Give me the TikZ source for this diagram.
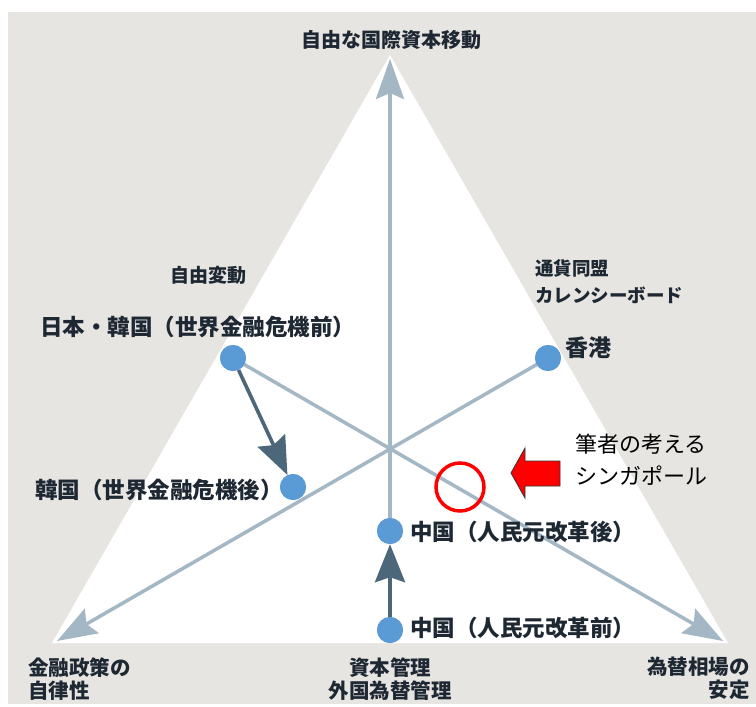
\documentclass[tikz,border=0pt]{standalone}
\usepackage{fontspec}
\usetikzlibrary{arrows.meta}
\newfontfamily\jp{Noto Sans CJK JP}
\definecolor{bggray}{HTML}{E7E5E2}
\definecolor{lightax}{HTML}{A3B7C5}
\definecolor{darkax}{HTML}{4C6779}
\definecolor{dotblue}{HTML}{5B9BD5}
\definecolor{txt}{HTML}{1E2833}
\tikzset{
  lightline/.style={draw=lightax, line width=3.5pt},
  lightarrow/.style={lightline, -{Stealth[length=40pt, width=28pt, inset=6pt]}},
  darkarrow/.style={draw=darkax, line width=3.6pt, -{Stealth[length=38pt, width=30pt, inset=5pt]}},
  dotnode/.style={circle, fill=dotblue, minimum size=26pt, inner sep=0pt},
  axlabel/.style={inner sep=0pt, text=txt, font=\jp\bfseries\fontsize{20}{24}\selectfont, align=left},
  ptlabel/.style={inner sep=0pt, text=txt, font=\jp\bfseries\fontsize{22.5}{26}\selectfont},
  notelabel/.style={inner sep=0pt, text=black, font=\jp\fontsize{22}{25}\selectfont},
}
\begin{document}
\begin{tikzpicture}[x=1pt, y=-1pt]
\useasboundingbox (0,0) rectangle (756,707);
\fill[white] (0,0) rectangle (756,707);
\fill[bggray] (8,12) rectangle (756,704);
% triangle
\fill[white] (390,55) -- (52,643) -- (728,643) -- cycle;
% corners (arrow tips)
\coordinate (top) at (390,59);
\coordinate (bl) at (57,641);
\coordinate (br) at (723,641);
% dots
\node[dotnode] (jp) at (233,358) {};
\node[dotnode] (kr) at (293,487) {};
\node[dotnode] (hk) at (548,358) {};
\node[dotnode] (cna) at (390,531) {};
\node[dotnode] (cnb) at (390,630) {};
% light axes
\draw[lightarrow] (cna.center) -- (top);
\draw[lightarrow] (jp.center) -- (br);
\draw[lightarrow] (hk.center) -- (bl);
% dark arrows
\draw[darkarrow] (jp) -- (kr);
\draw[darkarrow] (cnb) -- (cna);
% redraw dots on top
\node[dotnode] at (jp) {};
\node[dotnode] at (kr) {};
\node[dotnode] at (hk) {};
\node[dotnode] at (cna) {};
\node[dotnode] at (cnb) {};
% axis labels
\node[axlabel] (ltop) at (391,40) {自由な国際資本移動};
\node[axlabel, font=\jp\bfseries\fontsize{19}{23}\selectfont] (lfree) at (208,275) {自由変動};
\node[axlabel, anchor=west, font=\jp\bfseries\fontsize{18.5}{27}\selectfont] (lunion) at (535,282) {通貨同盟\\カレンシーボード};
\node[axlabel, anchor=west, font=\jp\bfseries\fontsize{20.5}{23}\selectfont] (lbl) at (28,679) {金融政策の\\自律性};
\node[axlabel, align=center, font=\jp\bfseries\fontsize{20.5}{23}\selectfont] (lbc) at (390,679) {資本管理\\外国為替管理};
\node[axlabel, anchor=east, align=right, font=\jp\bfseries\fontsize{20.5}{23}\selectfont] (lbr) at (750,678) {為替相場の\\安定};
% point labels
\node[ptlabel] (tjp) at (198,327) {日本・韓国（世界金融危機前）};
\node[ptlabel, anchor=east] (tkr) at (283,490) {韓国（世界金融危機後）};
\node[ptlabel, anchor=west, font=\jp\bfseries\fontsize{23}{27}\selectfont] (thk) at (565,348) {香港};
\node[ptlabel, anchor=west] (tcna) at (410,532) {中国（人民元改革後）};
\node[ptlabel, anchor=west] (tcnb) at (410,628) {中国（人民元改革前）};
% singapore note
\node[draw=red, line width=3.5pt, circle, minimum size=48pt, inner sep=0pt] (sg) at (460,487) {};
\draw[fill=red, draw=black!80, line width=0.8pt] (511,473) -- (525,448) -- (525,461) -- (560,461) -- (560,486) -- (525,486) -- (525,498) -- cycle;
\node[notelabel, anchor=west] (n1) at (575,444) {筆者の考える};
\node[notelabel, anchor=west] (n2) at (575,476) {シンガポール};
\end{tikzpicture}
\end{document}
